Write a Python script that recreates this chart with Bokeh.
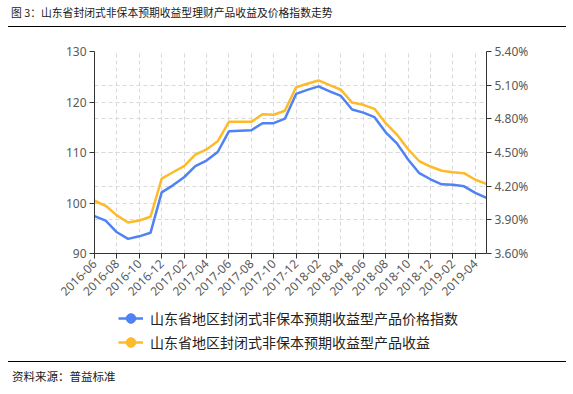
import math
from bokeh.plotting import figure
from bokeh.models import (Range1d, LinearAxis, FixedTicker, PrintfTickFormatter, Grid,
                          Legend, LegendItem, Div)
from bokeh.layouts import column
from bokeh.embed import file_html
from bokeh.resources import INLINE

months = ["2016-06", "2016-07", "2016-08", "2016-09", "2016-10", "2016-11", "2016-12",
          "2017-01", "2017-02", "2017-03", "2017-04", "2017-05", "2017-06", "2017-07",
          "2017-08", "2017-09", "2017-10", "2017-11", "2017-12", "2018-01", "2018-02",
          "2018-03", "2018-04", "2018-05", "2018-06", "2018-07", "2018-08", "2018-09",
          "2018-10", "2018-11", "2018-12", "2019-01", "2019-02", "2019-03", "2019-04",
          "2019-05"]

price_index = [97.4, 96.5, 94.2, 92.9, 93.4, 94.1, 102.1, 103.5, 105.1, 107.3, 108.4, 110.1,
               114.2, 114.3, 114.4, 115.8, 115.8, 116.7, 121.6, 122.4, 123.1, 122.1, 121.2, 118.5,
               117.9, 117.0, 114.0, 111.8, 108.6, 105.9, 104.7, 103.7, 103.6, 103.3, 102.0, 101.0]

yield_pct = [4.07, 4.025, 3.94, 3.876, 3.894, 3.927, 4.268, 4.324, 4.378, 4.482, 4.527, 4.60,
             4.773, 4.773, 4.773, 4.841, 4.836, 4.872, 5.082, 5.112, 5.142, 5.10, 5.059, 4.945,
             4.925, 4.889, 4.761, 4.66, 4.529, 4.422, 4.375, 4.337, 4.325, 4.316, 4.257, 4.22]

left_ticks = [90, 100, 110, 120, 130]
right_ticks = [3.6, 3.9, 4.2, 4.5, 4.8, 5.1, 5.4]

title_text = "图 3：山东省封闭式非保本预期收益型理财产品收益及价格指数走势"
series_names = ["山东省地区封闭式非保本预期收益型产品价格指数",
                "山东省地区封闭式非保本预期收益型产品收益"]
source_text = "资料来源：普益标准"

BLUE = "#4F82F2"
YELLOW = "#FDBA2A"
CJK = "Noto Sans CJK SC"
NUM = "Noto Sans"
TICK_COLOR = "#595959"
GRID_COLOR = "#d9d9d9"

x = list(range(len(months)))
tick_pos = x[::2]
tick_labels = {i: months[i] for i in tick_pos}

# ---------------- main chart ----------------
p = figure(width=573, height=278, output_backend="svg", toolbar_location=None,
           x_range=Range1d(0, len(months) - 1), y_range=Range1d(90, 130),
           min_border_left=94, min_border_right=87, min_border_top=23, min_border_bottom=53)
p.outline_line_color = None
p.background_fill_color = "white"
p.border_fill_color = "white"
p.margin = 0

p.extra_y_ranges = {"pct": Range1d(3.6, 5.4)}

p.yaxis.ticker = FixedTicker(ticks=left_ticks)
p.xaxis.ticker = FixedTicker(ticks=tick_pos)
p.xaxis.major_label_overrides = tick_labels
p.xaxis.major_label_orientation = math.pi / 4

right_axis = LinearAxis(y_range_name="pct", ticker=FixedTicker(ticks=right_ticks),
                        formatter=PrintfTickFormatter(format="%.2f%%"))
p.add_layout(right_axis, "right")

for ax in [p.xaxis[0], p.yaxis[0], right_axis]:
    ax.axis_line_color = "#333333"
    ax.axis_line_width = 1
    ax.major_tick_line_color = "#333333"
    ax.major_tick_out = 5
    ax.major_tick_in = 0
    ax.minor_tick_line_color = None
    ax.major_label_text_font = NUM
    ax.major_label_text_font_size = "12px"
    ax.major_label_text_color = TICK_COLOR
    ax.major_label_standoff = 3

p.xgrid.ticker = FixedTicker(ticks=tick_pos)
for g in [p.xgrid[0], p.ygrid[0]]:
    g.grid_line_color = GRID_COLOR
    g.grid_line_dash = "4 3"
    g.grid_line_width = 1
p.ygrid.ticker = FixedTicker(ticks=left_ticks)
g2 = Grid(dimension=1, ticker=FixedTicker(ticks=right_ticks), y_range_name="pct",
          grid_line_color=GRID_COLOR, grid_line_dash="4 3", grid_line_width=1)
p.add_layout(g2)

p.line(x, price_index, line_color=BLUE, line_width=2.5)
p.line(x, yield_pct, line_color=YELLOW, line_width=2.5, y_range_name="pct")

# ---------------- legend strip (its series lie outside its empty view) ----------------
lg = figure(width=573, height=54, output_backend="svg", toolbar_location=None,
            x_range=Range1d(-10, -9), y_range=Range1d(-10, -9),
            x_axis_type=None, y_axis_type=None,
            min_border_left=0, min_border_right=0, min_border_top=0, min_border_bottom=0)
lg.outline_line_color = None
lg.grid.visible = False
lg.margin = 0
k1 = lg.line(x, price_index, line_color=BLUE, line_width=2.5)
k2 = lg.line(x, yield_pct, line_color=YELLOW, line_width=2.5)
c1 = lg.scatter(x, price_index, size=11, fill_color=BLUE, line_color=BLUE)
c2 = lg.scatter(x, yield_pct, size=11, fill_color=YELLOW, line_color=YELLOW)

legend = Legend(items=[LegendItem(label=series_names[0], renderers=[k1, c1]),
                       LegendItem(label=series_names[1], renderers=[k2, c2])],
                location=(24, 6), orientation="vertical",
                border_line_color=None, background_fill_alpha=0,
                padding=0, margin=0, spacing=0, label_standoff=7,
                glyph_width=25, glyph_height=24, label_height=24,
                label_text_font=CJK, label_text_font_size="14px", label_text_color="#222222")
lg.add_layout(legend)

# ---------------- title and source ----------------
head = Div(width=573, height=28, margin=0, text=(
    '<div style="position:relative;width:573px;height:28px;">'
    '<span style="position:absolute;left:11px;top:5px;font-family:\'Noto Sans CJK SC\';'
    'font-size:10.8px;line-height:15px;color:#1a1a1a;white-space:nowrap;">'
    + title_text + '</span>'
    '<div style="position:absolute;left:8px;top:26px;width:558px;height:1.3px;background:#000;"></div>'
    '</div>'))

foot = Div(width=573, height=34, margin=0, text=(
    '<div style="position:relative;width:573px;height:34px;">'
    '<div style="position:absolute;left:8px;top:1px;width:558px;height:1.3px;background:#000;"></div>'
    '<span style="position:absolute;left:12px;top:9px;font-family:\'Noto Sans CJK SC\';'
    'font-size:11.5px;line-height:15px;color:#1a1a1a;white-space:nowrap;">'
    + source_text + '</span>'
    '</div>'))

layout = column(head, p, lg, foot, spacing=0)

open("out.html", "w").write(file_html(layout, INLINE))
